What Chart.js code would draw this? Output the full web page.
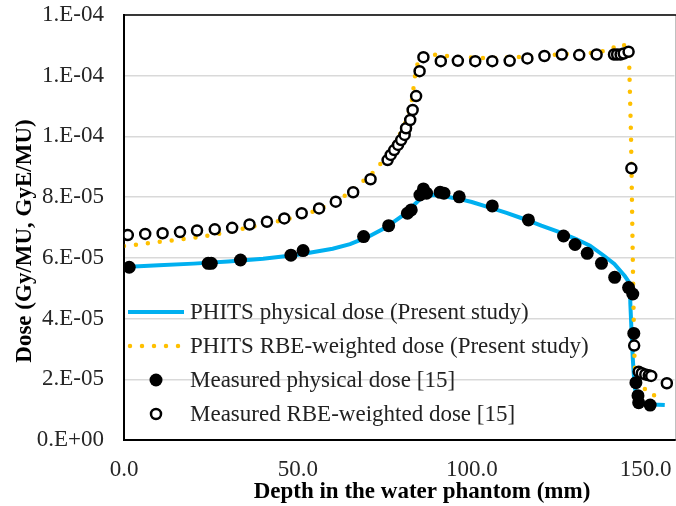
<!DOCTYPE html>
<html lang="en">
<head>
  <meta charset="UTF-8" />
  <title>Depth dose</title>
  <script src="https://cdn.jsdelivr.net/npm/chart.js"></script>
  <style>
    body { margin: 0; background: #fff; overflow: hidden; }
    #wrap { width: 682px; height: 506px; }
  </style>
</head>
<body>
  <div id="wrap"><canvas id="doseChart"></canvas></div>

  <script>
    // PHITS physical dose (line)
    const physX = [0, 10, 20, 30, 40, 50, 60, 65, 70, 75, 80, 83, 85, 87, 89, 92, 96, 100, 105, 110, 115, 120, 125, 130, 134, 138, 141, 144, 145.5, 145.6, 145.9, 146.3, 146.8, 147.5, 148.5, 152, 155.5];
    const physY = [5.70e-5, 5.76e-5, 5.81e-5, 5.88e-5, 5.97e-5, 6.10e-5, 6.30e-5, 6.45e-5, 6.68e-5, 6.98e-5, 7.38e-5, 7.70e-5, 7.92e-5, 8.05e-5, 8.07e-5, 8.03e-5, 7.95e-5, 7.84e-5, 7.66e-5, 7.48e-5, 7.28e-5, 7.06e-5, 6.86e-5, 6.62e-5, 6.40e-5, 6.07e-5, 5.80e-5, 5.40e-5, 5.15e-5, 4.5e-5, 3.7e-5, 2.7e-5, 1.8e-5, 1.35e-5, 1.22e-5, 1.17e-5, 1.15e-5];

    // PHITS RBE-weighted dose (dotted line)
    const rbeX = [0, 5, 10, 15, 20, 25, 30, 35, 40, 45, 50, 55, 60, 65, 67.5, 70, 72.5, 75, 78.5, 81.3, 82.8, 83.7, 84.3, 85.6, 87, 95, 105, 115, 125, 135, 140, 142, 144, 145.2, 145.8, 146.3, 146.7, 147, 149, 151, 155];
    const rbeY = [6.39e-5, 6.45e-5, 6.53e-5, 6.59e-5, 6.66e-5, 6.75e-5, 6.85e-5, 6.98e-5, 7.10e-5, 7.22e-5, 7.36e-5, 7.55e-5, 7.82e-5, 8.15e-5, 8.40e-5, 8.65e-5, 8.90e-5, 9.30e-5, 9.88e-5, 1.054e-4, 1.12e-4, 1.20e-4, 1.235e-4, 1.268e-4, 1.272e-4, 1.262e-4, 1.258e-4, 1.262e-4, 1.270e-4, 1.275e-4, 1.285e-4, 1.305e-4, 1.300e-4, 1.27e-4, 1.0e-4, 6.0e-5, 3.0e-5, 2.2e-5, 1.8e-5, 1.5e-5, 1.42e-5];

    // Measured physical dose [15]
    const measPhysX = [1.5, 24.2, 25.1, 33.5, 48, 51.5, 68.9, 76.1, 81.5, 82.6, 85.1, 86.1, 87, 90.9, 92, 96.4, 105.9, 116.3, 126.4, 129.7, 133.2, 137.3, 141.1, 145.1, 146.3, 146.6, 147.2, 147.8, 148, 151.3];
    const measPhysY = [5.69e-5, 5.82e-5, 5.82e-5, 5.93e-5, 6.09e-5, 6.24e-5, 6.70e-5, 7.06e-5, 7.47e-5, 7.58e-5, 8.07e-5, 8.27e-5, 8.13e-5, 8.16e-5, 8.13e-5, 8.01e-5, 7.71e-5, 7.25e-5, 6.72e-5, 6.44e-5, 6.15e-5, 5.82e-5, 5.36e-5, 5.02e-5, 4.81e-5, 3.51e-5, 1.89e-5, 1.46e-5, 1.23e-5, 1.15e-5];

    // Measured RBE-weighted dose [15]
    const measRbeX = [1.1, 6.1, 11.1, 16.1, 21.0, 26.1, 31.1, 36.1, 41.1, 46.1, 51.1, 56.1, 60.9, 65.9, 70.9, 75.8, 76.7, 77.7, 78.8, 79.7, 80.7, 81.1, 82.3, 83.0, 84.0, 85.0, 86.1, 91.1, 96.0, 101.0, 105.9, 110.9, 116.0, 120.9, 125.9, 130.9, 135.9, 140.9, 141.8, 142.8, 143.7, 145.1, 145.9, 146.7, 148.0, 148.9, 149.9, 150.9, 151.6, 156.1];
    const measRbeY = [6.75e-5, 6.79e-5, 6.81e-5, 6.85e-5, 6.90e-5, 6.94e-5, 6.99e-5, 7.10e-5, 7.19e-5, 7.30e-5, 7.47e-5, 7.63e-5, 7.85e-5, 8.16e-5, 8.59e-5, 9.22e-5, 9.39e-5, 9.55e-5, 9.72e-5, 9.88e-5, 1.005e-4, 1.027e-4, 1.054e-4, 1.087e-4, 1.133e-4, 1.215e-4, 1.261e-4, 1.248e-4, 1.249e-4, 1.248e-4, 1.248e-4, 1.249e-4, 1.257e-4, 1.265e-4, 1.270e-4, 1.268e-4, 1.270e-4, 1.270e-4, 1.270e-4, 1.270e-4, 1.273e-4, 1.279e-4, 8.95e-5, 3.11e-5, 2.25e-5, 2.20e-5, 2.16e-5, 2.13e-5, 2.11e-5, 1.87e-5];

    const seriesNames = [
      "PHITS physical dose (Present study)",
      "PHITS RBE-weighted dose (Present study)",
      "Measured physical dose [15]",
      "Measured RBE-weighted dose [15]"
    ];
    const xTitle = "Depth in the water phantom (mm)";
    const yTitle = "Dose (Gy/MU, GyE/MU)";

    const pts = (xs, ys) => xs.map((x, i) => ({ x: x, y: ys[i] }));

    // Excel style "0.E+00"
    function sciLabel(v) {
      if (Math.abs(v) < 1e-12) return "0.E+00";
      let e = Math.floor(Math.log10(Math.abs(v)) + 1e-9);
      let m = Math.round(v / Math.pow(10, e));
      if (m >= 10) { m = 1; e++; }
      const ae = Math.abs(e);
      return m + ".E" + (e < 0 ? "-" : "+") + (ae < 10 ? "0" + ae : ae);
    }

    const serif = "'Liberation Serif', 'Times New Roman', serif";

    // border around the plot area, axis titles, legend inside the plot
    const plotExtras = {
      id: "plotExtras",
      afterDatasetsDraw(chart) {
        const { ctx, chartArea: a } = chart;
        ctx.save();
        ctx.strokeStyle = "#000";
        ctx.lineWidth = 1.5;
        ctx.strokeRect(a.left, a.top, a.right - a.left + 2, a.bottom - a.top);
        ctx.restore();
      },
      afterDraw(chart) {
        const ctx = chart.ctx;
        const ds = chart.data.datasets;
        const rows = [312, 346, 380, 414];
        const x0 = 128, x1 = 184, xm = 156, tx = 190;
        ctx.save();
        // axis titles
        ctx.fillStyle = "#000";
        ctx.font = "bold 23px " + serif;
        ctx.textAlign = "center";
        ctx.textBaseline = "middle";
        ctx.fillText(xTitle, 422, 492);
        ctx.save();
        ctx.translate(25, 241);
        ctx.rotate(-Math.PI / 2);
        ctx.fillText(yTitle, 0, 0);
        ctx.restore();
        // solid line
        ctx.strokeStyle = ds[0].borderColor;
        ctx.lineWidth = ds[0].borderWidth;
        ctx.lineCap = "butt";
        ctx.beginPath(); ctx.moveTo(x0, rows[0]); ctx.lineTo(x1, rows[0]); ctx.stroke();
        // dotted line
        ctx.strokeStyle = ds[1].borderColor;
        ctx.lineWidth = ds[1].borderWidth;
        ctx.lineCap = "round";
        ctx.setLineDash(ds[1].borderDash);
        ctx.beginPath(); ctx.moveTo(x0 + 2, rows[1]); ctx.lineTo(x1, rows[1]); ctx.stroke();
        ctx.setLineDash([]);
        // filled marker
        ctx.fillStyle = "#000";
        ctx.beginPath(); ctx.arc(xm, rows[2], ds[2].pointRadius, 0, Math.PI * 2); ctx.fill();
        // open marker
        ctx.fillStyle = "#fff";
        ctx.strokeStyle = "#000";
        ctx.lineWidth = ds[3].pointBorderWidth;
        ctx.beginPath(); ctx.arc(xm, rows[3], ds[3].pointRadius, 0, Math.PI * 2); ctx.fill(); ctx.stroke();
        // texts
        ctx.fillStyle = "#222";
        ctx.font = "23px " + serif;
        ctx.textAlign = "left";
        seriesNames.forEach((n, i) => ctx.fillText(n, tx, rows[i] + 1));
        ctx.restore();
      }
    };

    new Chart(document.getElementById("doseChart"), {
      type: "scatter",
      data: {
        datasets: [
          {
            label: seriesNames[0],
            data: pts(physX, physY),
            showLine: true,
            borderColor: "#00B0F0",
            borderWidth: 4,
            pointRadius: 0,
            order: 4
          },
          {
            label: seriesNames[1],
            data: pts(rbeX, rbeY),
            showLine: true,
            borderColor: "#FFC000",
            borderWidth: 4.5,
            borderDash: [0, 12],
            borderCapStyle: "round",
            pointRadius: 0,
            order: 3
          },
          {
            label: seriesNames[2],
            data: pts(measPhysX, measPhysY),
            backgroundColor: "#000",
            borderColor: "#000",
            pointRadius: 6.5,
            pointBorderWidth: 0,
            order: 2
          },
          {
            label: seriesNames[3],
            data: pts(measRbeX, measRbeY),
            backgroundColor: "#fff",
            borderColor: "#000",
            pointRadius: 5,
            pointBorderWidth: 2.5,
            order: 1
          }
        ]
      },
      options: {
        responsive: true,
        maintainAspectRatio: false,
        animation: false,
        layout: { padding: { top: 15, right: 0, left: 0, bottom: 0 } },
        plugins: {
          legend: { display: false },
          tooltip: { enabled: false }
        },
        scales: {
          x: {
            type: "linear",
            min: 0,
            max: 158.3,
            afterFit: s => { s.height = 66; s.paddingLeft = 0; s.paddingRight = 0; },
            border: { display: true, color: "#000", width: 2 },
            grid: { display: false, drawTicks: false },
            ticks: {
              stepSize: 50,
              includeBounds: false,
              maxRotation: 0,
              padding: 16,
              color: "#262626",
              font: { family: serif, size: 23 },
              callback: v => Number(v).toFixed(1)
            }
          },
          y: {
            min: 0,
            max: 1.4e-4,
            afterFit: s => { s.width = 124; s.paddingTop = 0; s.paddingBottom = 0; },
            border: { display: true, color: "#000", width: 2 },
            grid: { color: "#D9D9D9", lineWidth: 1.5, drawTicks: false },
            ticks: {
              stepSize: 2e-5,
              padding: 20,
              color: "#262626",
              font: { family: serif, size: 23 },
              callback: v => sciLabel(v)
            }
          }
        }
      },
      plugins: [plotExtras]
    });
  </script>
</body>
</html>
